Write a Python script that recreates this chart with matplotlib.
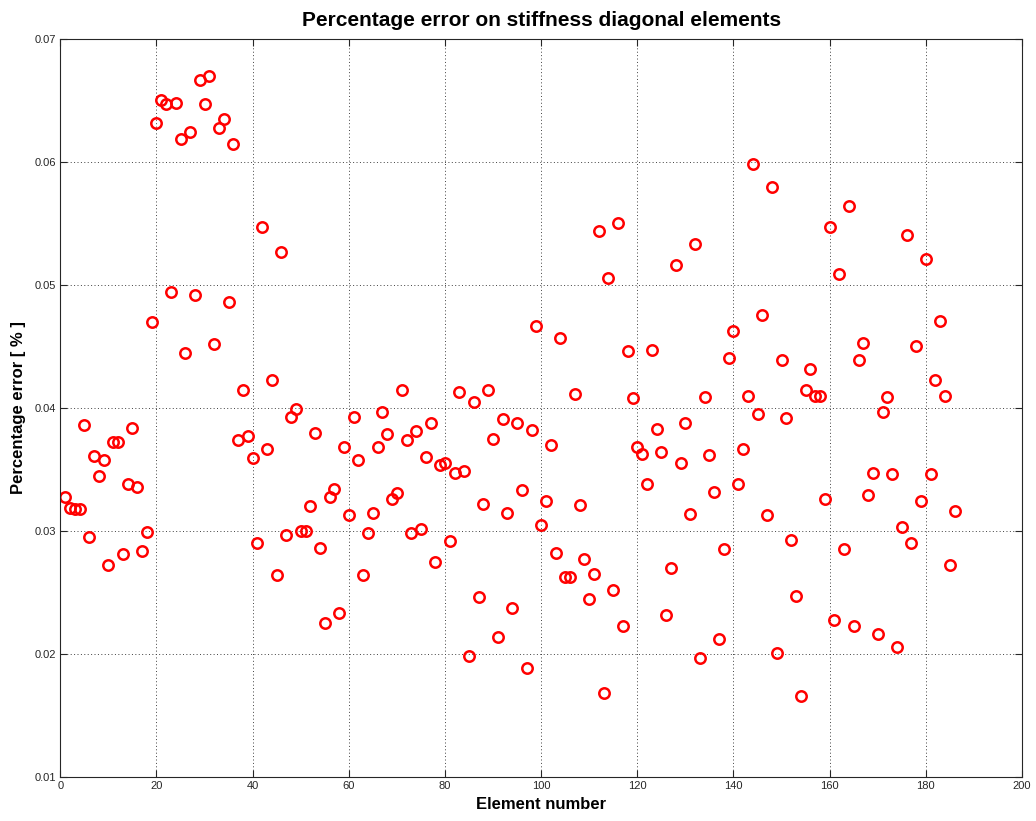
import numpy as np
import matplotlib
matplotlib.use("Agg")
import matplotlib.pyplot as plt

# Percentage error for each stiffness diagonal element (elements 1..186)
element_number = np.arange(1, 187)
percentage_error = [
    0.0328, 0.0319, 0.0318, 0.0318, 0.0386, 0.0295, 0.0361, 0.0345, 0.0358, 0.0272,
    0.0372, 0.0372, 0.0281, 0.0338, 0.0384, 0.0336, 0.0284, 0.0299, 0.0470, 0.0632,
    0.0650, 0.0647, 0.0494, 0.0648, 0.0619, 0.0445, 0.0624, 0.0492, 0.0667, 0.0647,
    0.0670, 0.0452, 0.0628, 0.0635, 0.0486, 0.0615, 0.0374, 0.0415, 0.0377, 0.0359,
    0.0290, 0.0547, 0.0367, 0.0423, 0.0264, 0.0527, 0.0297, 0.0393, 0.0399, 0.0300,
    0.0300, 0.0320, 0.0380, 0.0286, 0.0225, 0.0328, 0.0334, 0.0233, 0.0368, 0.0313,
    0.0393, 0.0358, 0.0264, 0.0298, 0.0315, 0.0368, 0.0397, 0.0379, 0.0326, 0.0331,
    0.0415, 0.0374, 0.0298, 0.0381, 0.0302, 0.0360, 0.0388, 0.0275, 0.0354, 0.0355,
    0.0292, 0.0347, 0.0413, 0.0349, 0.0198, 0.0405, 0.0246, 0.0322, 0.0415, 0.0375,
    0.0214, 0.0391, 0.0315, 0.0237, 0.0388, 0.0333, 0.0189, 0.0382, 0.0467, 0.0305,
    0.0324, 0.0370, 0.0282, 0.0457, 0.0263, 0.0263, 0.0411, 0.0321, 0.0277, 0.0245,
    0.0265, 0.0544, 0.0168, 0.0506, 0.0252, 0.0550, 0.0223, 0.0446, 0.0408, 0.0368,
    0.0363, 0.0338, 0.0447, 0.0383, 0.0364, 0.0232, 0.0270, 0.0516, 0.0355, 0.0388,
    0.0314, 0.0533, 0.0197, 0.0409, 0.0362, 0.0332, 0.0212, 0.0285, 0.0441, 0.0463,
    0.0338, 0.0367, 0.0410, 0.0598, 0.0395, 0.0476, 0.0313, 0.0580, 0.0201, 0.0439,
    0.0392, 0.0293, 0.0247, 0.0166, 0.0415, 0.0432, 0.0410, 0.0410, 0.0326, 0.0547,
    0.0228, 0.0509, 0.0285, 0.0564, 0.0223, 0.0439, 0.0453, 0.0329, 0.0347, 0.0216,
    0.0397, 0.0409, 0.0346, 0.0206, 0.0303, 0.0541, 0.0290, 0.0450, 0.0324, 0.0521,
    0.0346, 0.0423, 0.0471, 0.0410, 0.0272, 0.0316,
]

x_ticks = np.arange(0, 201, 20)
y_ticks = [0.01, 0.02, 0.03, 0.04, 0.05, 0.06, 0.07]
y_tick_labels = ["0.01", "0.02", "0.03", "0.04", "0.05", "0.06", "0.07"]

plt.rcParams['font.family'] = ['Liberation Sans', 'DejaVu Sans']

fig = plt.figure(figsize=(10.36, 8.21), dpi=100)
ax = fig.add_axes([0.0582, 0.0536, 0.9283, 0.8989])

ax.plot(element_number, percentage_error, linestyle='none', marker='o',
        markersize=7.5, markerfacecolor='none', markeredgecolor='#ff0000',
        markeredgewidth=1.8)

ax.set_xlim(0, 200)
ax.set_ylim(0.01, 0.07)
ax.set_xticks(x_ticks)
ax.set_yticks(y_ticks)
ax.set_yticklabels(y_tick_labels)

ax.grid(True, linestyle=(0, (1, 2.5)), color='0.25', linewidth=0.7)
ax.tick_params(direction='in', top=True, right=True, length=5, width=0.8,
               labelsize=8, pad=3, colors='0.15')
for sp in ax.spines.values():
    sp.set_linewidth(0.8)
    sp.set_color('0.15')

ax.set_xlabel('Element number', fontsize=12, fontweight='bold', labelpad=4)
ax.set_ylabel('Percentage error [ % ]', fontsize=12, fontweight='bold', labelpad=6)
ax.set_title('Percentage error on stiffness diagonal elements', fontsize=15,
             fontweight='bold', pad=9)

fig.savefig('out.png', dpi=100, facecolor='white')
